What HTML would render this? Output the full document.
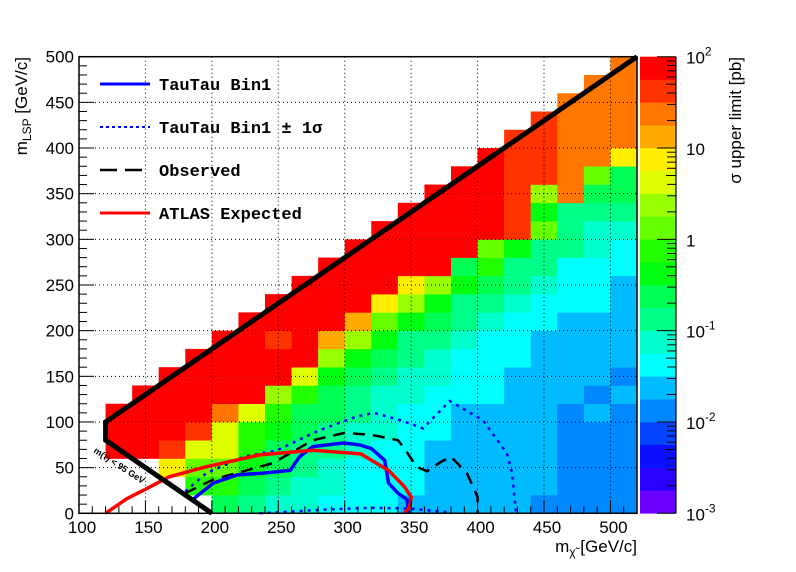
<!DOCTYPE html>
<html><head><meta charset="utf-8">
<style>
html,body{margin:0;padding:0;background:#fff;}
svg{display:block;font-family:"Liberation Sans",sans-serif;}
.leg{font-family:"Liberation Mono",monospace;font-weight:bold;font-size:17px;}
</style></head>
<body>
<svg id="chart" width="796" height="572" viewBox="0 0 796 572" xmlns="http://www.w3.org/2000/svg">
<g id="cells"></g>
<g id="grid"></g>
<g id="curves"></g>
<g id="axes"></g>
<g id="cbar"></g>
<g id="legend">
  <line x1="100" y1="84" x2="150" y2="84" stroke="#0000ff" stroke-width="3"/>
  <text class="leg" x="159" y="90">TauTau Bin1</text>
  <line x1="100" y1="127" x2="150" y2="127" stroke="#0000ff" stroke-width="2" stroke-dasharray="3,3"/>
  <text class="leg" x="159" y="133">TauTau Bin1 ± 1σ</text>
  <line x1="100" y1="170" x2="150" y2="170" stroke="#000" stroke-width="2.5" stroke-dasharray="17,8"/>
  <text class="leg" x="159" y="176">Observed</text>
  <line x1="100" y1="213" x2="150" y2="213" stroke="#ff0000" stroke-width="3"/>
  <text class="leg" x="159" y="219">ATLAS Expected</text>
</g>
<text x="637" y="552" text-anchor="end" font-size="17">m<tspan font-size="12" dy="4">χ̃</tspan><tspan dy="-4"> [GeV/c]</tspan></text>
<text transform="translate(27,57) rotate(-90)" text-anchor="end" font-size="17">m<tspan font-size="12" dy="4">LSP</tspan><tspan dy="-4"> [GeV/c]</tspan></text>
<text transform="translate(741,57) rotate(-90)" text-anchor="end" font-size="17">σ upper limit [pb]</text>
<text transform="translate(93,452) rotate(33)" font-size="9" font-weight="bold">m(τ̃) &lt; 95 GeV</text>
</svg>
<script>
// ---- data ----
const xBins = [120,140,160,180,200,220,240,260,280,300,320,340,360,380,400,420,440,460,480,500];
const rowStart = [3,3,2,1,0,0,0,0,0,0,0,0,0,0,0,0,0,0,0,0];
const c120 = [19,19,19];
const c140 = [19,19,19,19];
const c160 = [15,18,19,19,19,19];
const c180 = [11,12,14,18,19,19,19,19];
const c200 = [9,11,12,14,14,17,19,19,19,19];
const c220 = [8,9,10,11,11,14,19,19,19,19,19];
const c240 = [7,8,9,9,10,11,13,19,19,18,19,19];
const c260 = [7,7,8,8,9,9,11,14,19,19,19,19,19];
const c280 = [6,7,7,8,8,9,9,10,13,16,19,19,19,19];
const c300 = [6,6,6,7,7,8,8,9,10,13,16,19,19,19,19];
const c320 = [6,6,6,6,7,7,7,8,9,10,12,15,19,19,19,19];
const c340 = [5,6,6,6,6,6,7,7,8,8,10,13,15,19,19,19,19];
const c360 = [5,5,5,5,6,6,6,7,7,8,9,10,13,19,19,19,19,19];
const c380 = [5,5,5,5,5,5,6,6,6,7,8,8,10,9,19,19,19,19,19];
const c400 = [5,5,5,5,5,5,6,6,6,6,7,8,9,11,12,19,19,19,19,19];
const c420 = [5,5,5,5,5,5,5,5,6,6,6,7,8,8,10,18,18,18,18,18,18];
const c440 = [4,5,5,5,5,5,5,5,5,5,6,6,7,8,8,12,10,13,18,18,18,18];
const c460 = [4,4,4,4,4,4,5,5,5,5,5,6,6,6,8,8,8,17,17,17,17,17,17];
const c480 = [4,4,4,4,4,5,4,5,5,5,5,6,6,6,7,7,8,9,12,17,17,17,17,17];
const c500 = [4,4,4,4,4,4,5,4,5,5,5,5,5,6,6,7,8,9,9,15,17,17,17,17,17];
const levels = [c120,c140,c160,c180,c200,c220,c240,c260,c280,c300,c320,c340,c360,c380,c400,c420,c440,c460,c480,c500];
const palette = ["#6a00ff","#2a00ff","#0a10ff","#0444ff","#0088ff","#00bbff","#00ffff","#00ffcc","#00ff88","#00ff55","#00ff10","#22ff00","#66ff00","#99ff00","#ddff00","#ffee00","#ffaa00","#ff7700","#ff3300","#ff0000"];
const xTicks = [100,150,200,250,300,350,400,450,500];
const yTicks = [0,50,100,150,200,250,300,350,400,450,500];
const cbDecades = [-3,-2,-1,0,1,2];
const cbLabels = ["10<-3>","10<-2>","10<-1>","1","10","10<2>"];
const boundX = [520,120,120,200];
const boundY = [500,100,80,0];
const bin1X = [186,188,201,219,239,259,266,276,299,311,320,330,333,340,347,348];
const bin1Y = [15,18,33,42,44,47,62,73,77,75,71,58,33,22,15,0];
const atlasX = [120,136,151,168,196,236,276,312,333,345,350,349,345];
const atlasY = [0,16,27,40,51,64,69,65,47,29,18,7,0];
const obsX = [180,201,226,246,276,300,320,340,345,354,362,372,380,392,400,400];
const obsY = [22,37,47,55,80,88,86,80,71,51,46,56,62,44,18,0];
const sigUpX = [180,196,224,249,281,309,322,342,359,379,404,422,426,429];
const sigUpY = [24,44,62,69,91,106,110,102,93,123,102,66,44,0];
const sigDnX = [236,260,285,320,350,380];
const sigDnY = [0,2,4,6,5,1];

// ---- axis functions ----
const X0=79, X1=637, Y0=513.3, Y1=56.7;
const X = v => X0 + (v-100)*(X1-X0)/420;
const Y = v => Y0 - v*(Y0-Y1)/500;
const NS = "http://www.w3.org/2000/svg";
function mk(tag, attrs, parent){ const e=document.createElementNS(NS,tag); for(const k in attrs) e.setAttribute(k,attrs[k]); parent.appendChild(e); return e; }

// cells
const gc = document.getElementById('cells');
levels.forEach((col,i)=>{
  col.forEach((lv,k)=>{
    const j = rowStart[i]+k;
    const r = mk('rect',{x:X(xBins[i]),y:Y(20*j+20),width:X(xBins[i]+20)-X(xBins[i])+0.3,height:Y(20*j)-Y(20*j+20)+0.3,fill:palette[lv]},gc);
    
    
  });
});

// grid
const gg = document.getElementById('grid');
xTicks.slice(1).forEach(v=>{
  const l=mk('line',{x1:X(v),x2:X(v),y1:Y1,y2:Y0,stroke:'#000','stroke-width':1,'stroke-dasharray':'1,3'},gg);
  
  
});
yTicks.slice(1,-1).forEach(v=>{
  const l=mk('line',{x1:X0,x2:X1,y1:Y(v),y2:Y(v),stroke:'#000','stroke-width':1,'stroke-dasharray':'1,3'},gg);
  
  
});

// curves
const gcv = document.getElementById('curves');
function poly(xs,ys,attrs,name){
  const pts = xs.map((x,i)=>X(x).toFixed(1)+','+Y(ys[i]).toFixed(1)).join(' ');
  const p = mk('polyline',Object.assign({points:pts,fill:'none'},attrs),gcv);
  
  
}
poly(sigUpX,sigUpY,{stroke:'#0000ff','stroke-width':2.5,'stroke-dasharray':'3,5'},'sigma-band-upper');
poly(sigDnX,sigDnY,{stroke:'#0000ff','stroke-width':2.5,'stroke-dasharray':'3,5'},'sigma-band-lower');
poly(obsX,obsY,{stroke:'#000','stroke-width':2.5,'stroke-dasharray':'12,8'},'observed-limit');
poly(bin1X,bin1Y,{stroke:'#0000ff','stroke-width':3.5},'tautau-bin1-limit');
poly(atlasX,atlasY,{stroke:'#ff0000','stroke-width':3.5},'atlas-expected-limit');
poly(boundX,boundY,{stroke:'#000','stroke-width':5,'stroke-linejoin':'miter'},'kinematic-boundary');

// axes
const ga = document.getElementById('axes');
const frame = mk('rect',{x:X0,y:Y1,width:X1-X0,height:Y0-Y1,fill:'none',stroke:'#000','stroke-width':1.5},ga);


for(let v=100; v<=520; v+=10){
  const major = v%50===0;
  const t = mk('line',{x1:X(v),x2:X(v),y1:Y0,y2:Y0-(major?13:7),stroke:'#000','stroke-width':1},ga);
  
  
}
for(let v=0; v<=500; v+=10){
  const major = v%50===0;
  const t = mk('line',{x1:X0,x2:X0+(major?15:8),y1:Y(v),y2:Y(v),stroke:'#000','stroke-width':1},ga);
  
  
}
xTicks.forEach(v=>{
  const t = mk('text',{x:X(v)+3,y:533,'text-anchor':'middle','font-size':17},ga);
  t.textContent = v;
  
  
});
yTicks.forEach(v=>{
  const t = mk('text',{x:74,y:Y(v)+6,'text-anchor':'end','font-size':17},ga);
  t.textContent = v;
  
  
});

// color bar
const gb = document.getElementById('cbar');
const CB0=640, CB1=676;
const CY = d => Y0 - (d+3)*(Y0-Y1)/5;
palette.forEach((c,i)=>{
  const d0 = -3 + i*0.25;
  const r = mk('rect',{x:CB0,y:CY(d0+0.25),width:CB1-CB0,height:CY(d0)-CY(d0+0.25)+0.3,fill:c},gb);
  
  
});
const cbAxis = mk('line',{x1:CB1,x2:CB1,y1:Y1,y2:Y0,stroke:'#000','stroke-width':1.2},gb);


cbDecades.forEach((d,i)=>{
  const t = mk('line',{x1:CB1,x2:CB1-19,y1:CY(d),y2:CY(d),stroke:'#000','stroke-width':1},gb);
  
  
  if(d<2){ for(let m=2;m<=9;m++){
    const mt = mk('line',{x1:CB1,x2:CB1-(m===5?10:9),y1:CY(d+Math.log10(m)),y2:CY(d+Math.log10(m)),stroke:'#000','stroke-width':1},gb);
    
    
  }}
  const lab = cbLabels[i];
  const tx = mk('text',{x:686,y:CY(d)+7,'font-size':17},gb);
  
  
  const m = lab.match(/^(\d+)<(.+)>$/);
  if(m){
    tx.textContent = m[1];
    const s = mk('tspan',{'font-size':12,dy:-8},tx);
    s.textContent = m[2];
  } else tx.textContent = lab;
});
</script>
</body></html>
